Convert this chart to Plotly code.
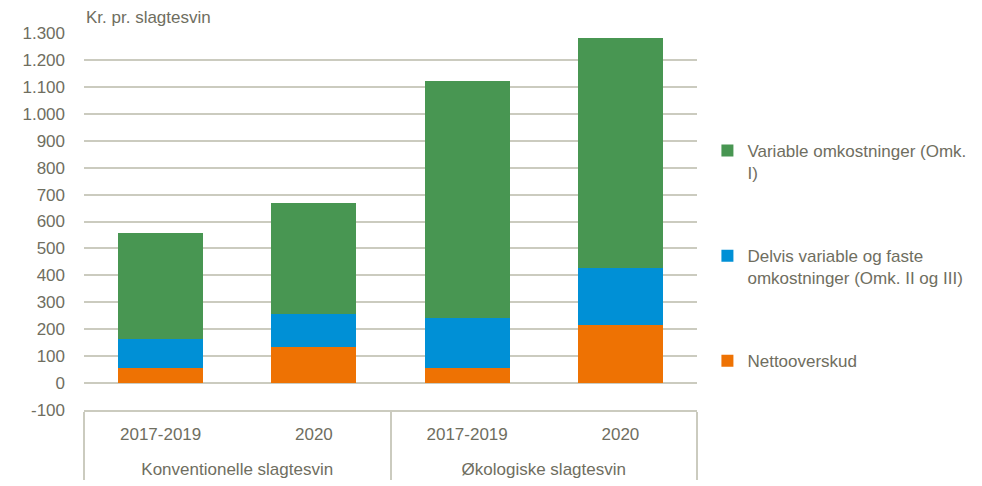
import plotly.graph_objects as go

groups = ["Konventionelle slagtesvin", "Konventionelle slagtesvin",
          "Økologiske slagtesvin", "Økologiske slagtesvin"]
periods = ["2017-2019", "2020", "2017-2019", "2020"]

netto = [57, 134, 57, 217]
delvis = [105, 121, 184, 211]
variable = [394, 412, 881, 852]

names = ["Nettooverskud",
         "Delvis variable og faste<br>omkostninger (Omk. II og III)",
         "Variable omkostninger (Omk.<br>I)"]
colors = ["#ee7203", "#0090d6", "#489652"]

y_ticks = list(range(-100, 1400, 100))
y_labels = ["-100", "0", "100", "200", "300", "400", "500", "600", "700", "800",
            "900", "1.000", "1.100", "1.200", "1.300"]

txt = "#6f6e5f"
grid = "#cbcbbf"
font = dict(family="Liberation Sans, Arial, sans-serif", size=17, color=txt)

# group labels pushed one line lower, like the Excel category box
group_labels = ["<br>" + g for g in groups]

fig = go.Figure()
for i, (vals, name, col) in enumerate(zip([netto, delvis, variable], names, colors)):
    fig.add_trace(go.Bar(x=[group_labels, periods], y=vals, name=name,
                         legendgroup=name, legendrank=3 - i,
                         marker=dict(color=col, line=dict(width=0))))

# the page body has an 8px margin, so the margins are shifted by that
fig.update_layout(
    barmode="stack", bargap=0.445,
    width=982, height=486,
    margin=dict(l=76, r=293, t=25, b=84),
    plot_bgcolor="white", paper_bgcolor="white",
    font=font,
    showlegend=True,
    legend=dict(x=1.017, xanchor="left", y=0.735, yanchor="top",
                traceorder="grouped", tracegroupgap=58,
                valign="top", font=font),
    annotations=[dict(text="Kr. pr. slagtesvin", xref="paper", yref="paper",
                      x=0, y=1.04, xanchor="left", yanchor="middle",
                      showarrow=False, font=font)],
)
fig.update_yaxes(range=[-100, 1300], tickvals=y_ticks, ticktext=y_labels,
                 showgrid=True, gridcolor=grid,
                 gridwidth=1.5, zeroline=False, ticks="", ticklabelstandoff=18,
                 showline=False)
fig.update_xaxes(showline=True, linecolor=grid, linewidth=1.5, showgrid=False,
                 ticks="", ticklabelstandoff=8, showdividers=True,
                 dividercolor=grid, dividerwidth=1.5)

fig.write_html("out.html")
